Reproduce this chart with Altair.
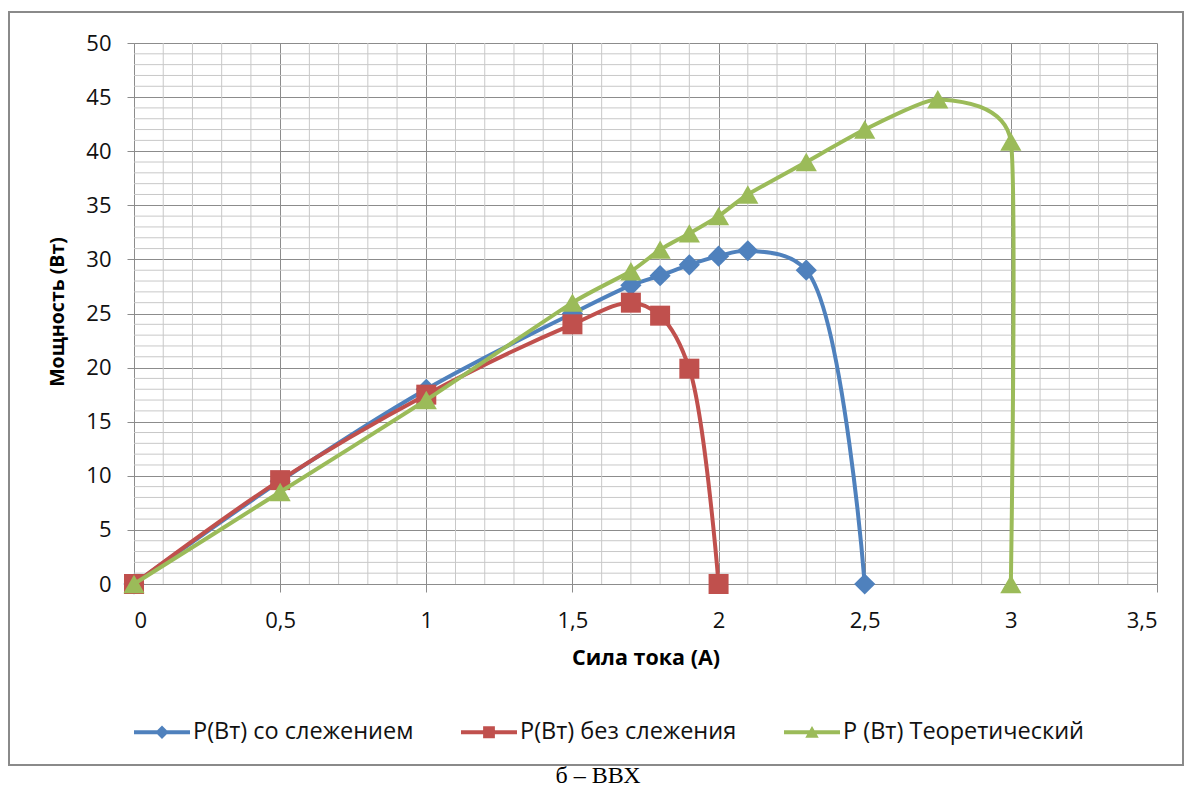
import altair as alt
import pandas as pd

# ---------------- data ----------------
series_names = ["P(Вт) со слежением", "P(Вт) без слежения", "P (Вт) Теоретический"]
series_colors = ["#4F81BD", "#C0504D", "#9BBB59"]
series_shapes = ["diamond", "square", "triangle-up"]
series_sizes = [450, 400, 450]

current_track = [0, 0.5, 1.0, 1.5, 1.7, 1.8, 1.9, 2.0, 2.1, 2.3, 2.5]
power_track = [0, 9.5, 18.0, 25.0, 27.6, 28.5, 29.5, 30.3, 30.8, 29.0, 0]

current_free = [0, 0.5, 1.0, 1.5, 1.7, 1.8, 1.9, 2.0]
power_free = [0, 9.6, 17.5, 24.0, 26.0, 24.8, 19.9, 0]

current_theory = [0, 0.5, 1.0, 1.5, 1.7, 1.8, 1.9, 2.0, 2.1, 2.3, 2.5, 2.75, 3.0, 3.0]
power_theory = [0, 8.5, 17.0, 26.0, 28.9, 30.9, 32.4, 34.0, 36.0, 39.0, 42.0, 44.8, 40.9, 0]

x_ticks = [0, 0.5, 1, 1.5, 2, 2.5, 3, 3.5]
y_ticks = [0, 5, 10, 15, 20, 25, 30, 35, 40, 45, 50]
x_title = "Сила тока (А)"
y_title = "Мощность (Вт)"
caption = "б – ВВХ"

# ---------------- tables ----------------
rows = []
for name, xs, ys in zip(series_names,
                        [current_track, current_free, current_theory],
                        [power_track, power_free, power_theory]):
    for i, (xv, yv) in enumerate(zip(xs, ys)):
        rows.append({"series": name, "current": xv, "power": yv, "idx": i})
df = pd.DataFrame(rows)

x_minor = pd.DataFrame({"current": [i / 10 for i in range(36) if i % 5 != 0]})
y_minor = pd.DataFrame({"power": [i for i in range(51) if i % 5 != 0]})

W, H = 1023, 541
FONT = "Open Sans"
MAJOR = "#8c8c8c"
MINOR = "#c8c8c8"

x_enc = alt.X(
    "current:Q",
    scale=alt.Scale(domain=[0, 3.5], nice=False, zero=False),
    axis=alt.Axis(
        values=x_ticks, format="~g", labelExpr="replace(datum.label, '.', ',')",
        grid=True, gridColor=MAJOR, gridWidth=1,
        domainColor=MAJOR, domainWidth=1, tickColor=MAJOR, tickSize=8,
        labelFont=FONT, labelFontSize=22, labelColor="#111", labelPadding=18,
        title=x_title, titleFont=FONT, titleFontSize=21.5, titleFontWeight="bold",
        titleColor="#000", titleX=W / 2, titleY=74, titleBaseline="middle",
    ),
)
y_enc = alt.Y(
    "power:Q",
    scale=alt.Scale(domain=[0, 50], nice=False, zero=False),
    axis=alt.Axis(
        values=y_ticks, grid=True, gridColor=MAJOR, gridWidth=1,
        domainColor=MAJOR, domainWidth=1, tickColor=MAJOR, tickSize=7,
        labelFont=FONT, labelFontSize=22, labelColor="#111", labelPadding=16,
        title=y_title, titleFont=FONT, titleFontSize=19.5, titleFontWeight="bold",
        titleColor="#000", titleX=-77, titleY=H / 2 - 2, titleBaseline="middle",
        titleAlign="center",
    ),
)

layers = []
layers.append(alt.Chart(x_minor).mark_rule(color=MINOR, strokeWidth=1).encode(x=x_enc))
layers.append(alt.Chart(y_minor).mark_rule(color=MINOR, strokeWidth=1).encode(y=y_enc))

series_curves = [
    {"interpolate": "catmull-rom"},
    {"interpolate": "catmull-rom"},
    {"interpolate": "cardinal", "tension": 0.5},
]
for name, col, shp, sz, curve in zip(series_names, series_colors, series_shapes,
                                      series_sizes, series_curves):
    base = alt.Chart(df).transform_filter(alt.datum.series == name)
    layers.append(
        base.mark_line(color=col, strokeWidth=4, **curve).encode(
            x=x_enc, y=y_enc, order="idx:Q")
    )
    layers.append(
        base.mark_point(shape=shp, filled=True, size=sz, color=col, opacity=1,
                        strokeWidth=0).encode(x=x_enc, y=y_enc)
    )

# legend symbols: line segment + marker (unit box -1..1 = 56 px)
legend_paths = [
    "M-1,-0.07L1,-0.07L1,0.07L-1,0.07Z M0,-0.24L0.24,0L0,0.24L-0.24,0Z",
    "M-1,-0.07L1,-0.07L1,0.07L-1,0.07Z M-0.21,-0.21L0.21,-0.21L0.21,0.21L-0.21,0.21Z",
    "M-1,-0.07L1,-0.07L1,0.07L-1,0.07Z M0,-0.22L0.24,0.2L-0.24,0.2Z",
]
leg = alt.Legend(
    title=None, orient="none", legendX=0, legendY=661, direction="horizontal",
    symbolSize=3136, symbolStrokeWidth=0, symbolOpacity=1,
    labelFont=FONT, labelFontSize=23.5, labelColor="#111", labelLimit=500,
    labelOffset=3, columnPadding=47, padding=0,
)
layers.append(
    alt.Chart(df).transform_filter("false").mark_point(filled=True, opacity=1).encode(
        x=x_enc, y=y_enc,
        color=alt.Color("series:N", scale=alt.Scale(domain=series_names, range=series_colors),
                        legend=leg),
        shape=alt.Shape("series:N", scale=alt.Scale(domain=series_names, range=legend_paths),
                        legend=leg),
    )
)

one = pd.DataFrame({"caption": [caption]})
layers.append(
    alt.Chart(one).mark_rect(fillOpacity=0, stroke="#8a8a8a", strokeWidth=2).encode(
        x=alt.value(-125), x2=alt.value(1049), y=alt.value(-31), y2=alt.value(722))
)
layers.append(
    alt.Chart(one).mark_text(font="Liberation Serif", fontSize=24, color="#000",
                             baseline="bottom", align="center").encode(
        x=alt.value(464), y=alt.value(745), text="caption:N")
)

chart = alt.layer(*layers).properties(
    width=W, height=H,
    autosize=alt.AutoSizeParams(type="none"),
    padding={"left": 126, "top": 35, "right": 27, "bottom": 204},
    background="white",
).configure_view(strokeWidth=0)

chart.save("out.html", embed_options={"renderer": "svg", "actions": False})
